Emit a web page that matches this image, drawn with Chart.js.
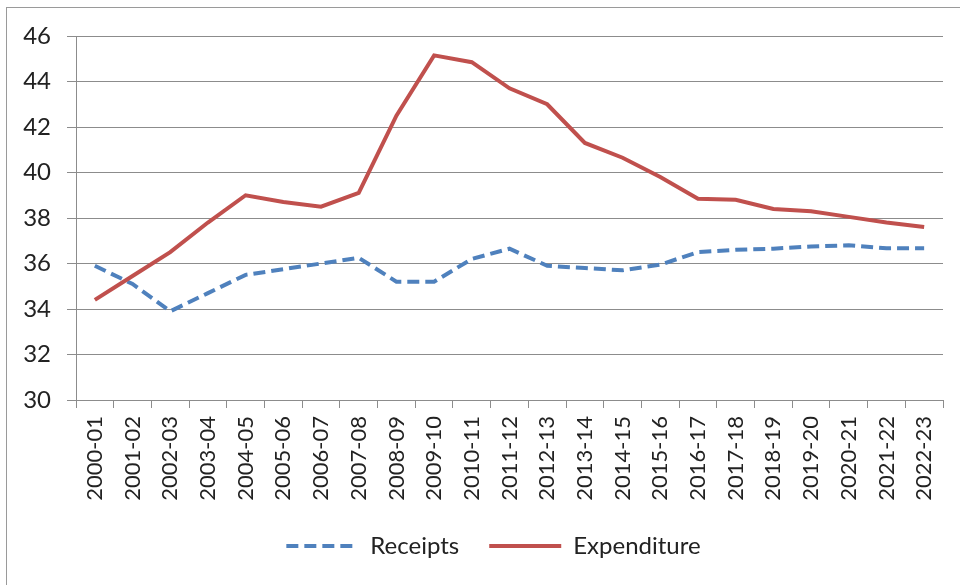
<!DOCTYPE html>
<html lang="en">
<head>
    <meta charset="UTF-8">
    <title>Receipts and Expenditure</title>
    <style>
        body { margin: 0; background: #fff; overflow: hidden; }
        .frame { position: absolute; left: 6px; top: 7px; width: 1000px; height: 700px;
                 border-left: 1px solid #9a9a9a; border-top: 1px solid #9a9a9a; }
        #myChart { position: absolute; left: 0; top: 0; }
    </style>
</head>
<body>
    <div class="frame"></div>
    <canvas id="myChart" width="960" height="585"></canvas>
    <script src="https://cdn.jsdelivr.net/npm/chart.js@4.4.1/dist/chart.umd.min.js"></script>
    <script>
        const years = ['2000-01','2001-02','2002-03','2003-04','2004-05','2005-06','2006-07','2007-08',
            '2008-09','2009-10','2010-11','2011-12','2012-13','2013-14','2014-15','2015-16',
            '2016-17','2017-18','2018-19','2019-20','2020-21','2021-22','2022-23'];
        const receipts = [35.9, 35.1, 33.9, 34.7, 35.5, 35.75, 36.0, 36.25, 35.2, 35.2, 36.2, 36.65,
            35.9, 35.8, 35.7, 35.95, 36.5, 36.6, 36.65, 36.75, 36.8, 36.67, 36.67];
        const expenditure = [34.4, 35.45, 36.5, 37.8, 39.0, 38.7, 38.5, 39.1, 42.5, 45.15, 44.85, 43.7,
            43.0, 41.3, 40.65, 39.8, 38.85, 38.8, 38.4, 38.3, 38.05, 37.8, 37.6];
        const yTicks = [30, 32, 34, 36, 38, 40, 42, 44, 46];

        const gridCol = '#8c8c8c';
        const font = "Lato, 'Open Sans', sans-serif";

        // nudge the legend a bit to the right, like the original
        const legendShift = {
            id: 'legendShift',
            afterLayout(chart) {
                chart.legend.left += 19;
                chart.legend.right += 19;
            }
        };

        const ctx = document.getElementById('myChart').getContext('2d');
        new Chart(ctx, {
            type: 'line',
            data: {
                labels: years,
                datasets: [
                    {
                        label: 'Receipts',
                        data: receipts,
                        borderColor: '#4f81bd',
                        backgroundColor: '#4f81bd',
                        borderWidth: 4,
                        borderDash: [12, 6],
                        pointRadius: 0,
                        pointStyle: 'line',
                        tension: 0,
                        order: 2
                    },
                    {
                        label: 'Expenditure',
                        data: expenditure,
                        borderColor: '#c0504d',
                        backgroundColor: '#c0504d',
                        borderWidth: 4,
                        pointRadius: 0,
                        pointStyle: 'line',
                        tension: 0,
                        order: 1
                    }
                ]
            },
            options: {
                responsive: false,
                animation: false,
                layout: { padding: { left: 6, right: 17, top: 36, bottom: 17 } },
                plugins: {
                    tooltip: { enabled: false },
                    legend: {
                        position: 'bottom',
                        labels: {
                            usePointStyle: true,
                            pointStyleWidth: 72,
                            padding: 30,
                            color: '#222',
                            font: { family: font, size: 24 },
                            sort: (a, b) => a.datasetIndex - b.datasetIndex,
                            generateLabels: (chart) => {
                                const items = Chart.defaults.plugins.legend.labels.generateLabels(chart);
                                items.forEach(it => {
                                    const ds = chart.data.datasets[it.datasetIndex];
                                    it.lineDash = ds.borderDash || [];
                                    it.lineWidth = 4;
                                });
                                return items;
                            }
                        }
                    }
                },
                scales: {
                    x: {
                        offset: true,
                        grid: { offset: true, drawOnChartArea: false, drawTicks: true, tickLength: 8, color: gridCol },
                        border: { color: gridCol },
                        ticks: {
                            autoSkip: false, minRotation: 90, maxRotation: 90, padding: 8,
                            color: '#222', font: { family: font, size: 22 }
                        },
                        afterFit: (scale) => { scale.height = 104; }
                    },
                    y: {
                        min: 30,
                        max: 46,
                        afterBuildTicks: (scale) => { scale.ticks = yTicks.map(v => ({ value: v })); },
                        grid: { color: gridCol, tickLength: 9 },
                        border: { color: gridCol },
                        ticks: { padding: 16, color: '#222', font: { family: font, size: 24 } },
                        afterFit: (scale) => { scale.width = 70; }
                    }
                }
            },
            plugins: [legendShift]
        });
    </script>
</body>
</html>
